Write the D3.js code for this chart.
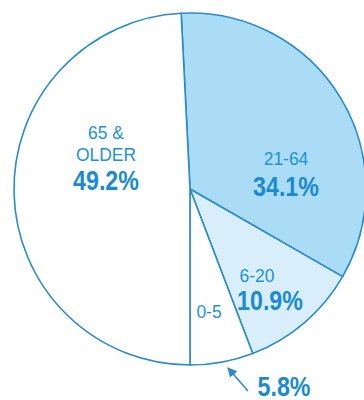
<!DOCTYPE html>
<html>
<head>
<meta charset="utf-8">
<script src="https://cdn.jsdelivr.net/npm/d3@7"></script>
<style>
  body { margin: 0; background: #fff; }
  svg { display: block; }
  .lbl { font-family: "Liberation Sans", Arial, sans-serif; fill: #2291d6; }
  .pct { font-family: "Liberation Sans", Arial, sans-serif; font-weight: bold; fill: #1a8ad3; }
</style>
</head>
<body>
<svg width="364" height="400"></svg>
<script>
// age groups, clockwise from 12 o'clock
const groups = ['21-64', '6-20', '0-5', '65 & OLDER'];
const shares = [34.1, 10.9, 5.8, 49.2];
const fills = ['#abdcf6', '#d8effb', '#ffffff', '#ffffff'];

const width = 364, height = 400;
const cx = 190, cy = 189, radius = 176;

const svg = d3.select('svg');
const g = svg.append('g').attr('transform', `translate(${cx},${cy})`);

// rotate so the 0-5 slice ends straight down
const total = d3.sum(shares);
const beforeOld = d3.sum(shares.slice(0, 3));
const start = Math.PI - beforeOld / total * 2 * Math.PI;

const pie = d3.pie().value(d => d).sort(null)
  .startAngle(start).endAngle(start + 2 * Math.PI);
const arc = d3.arc().innerRadius(0).outerRadius(radius);

g.selectAll('path.slice')
  .data(pie(shares))
  .enter().append('path')
  .attr('class', 'slice')
  .attr('d', arc)
  .attr('fill', (d, i) => fills[i])
  .attr('stroke', '#2a8bcb')
  .attr('stroke-width', 1.6)
  .attr('stroke-linejoin', 'round');

// labels: [x, y, text, class, size]
const labels = [
  [106, 139, '65 &', 'lbl', 18],
  [106, 161, 'OLDER', 'lbl', 18],
  [106, 190, shares[3].toFixed(1) + '%', 'pct', 27],
  [286, 165, groups[0], 'lbl', 18],
  [286, 196, shares[0].toFixed(1) + '%', 'pct', 27],
  [257, 282, groups[1], 'lbl', 18],
  [270, 310, shares[1].toFixed(1) + '%', 'pct', 27],
  [209, 318, groups[2], 'lbl', 18],
  [284, 396, shares[2].toFixed(1) + '%', 'pct', 27]
];

// the bold figures are set a little condensed
svg.selectAll('text.t')
  .data(labels)
  .enter().append('text')
  .attr('class', d => 't ' + d[3])
  .attr('transform', d => `translate(${d[0]},${d[1]}) scale(${d[3] === 'pct' ? 0.86 : 0.97},1)`)
  .attr('text-anchor', 'middle')
  .style('font-size', d => d[4] + 'px')
  .text(d => d[2]);

// pointer from the 5.8% figure up to the small slice
svg.append('defs').append('marker')
  .attr('id', 'head')
  .attr('viewBox', '0 0 10 10')
  .attr('refX', 9).attr('refY', 5)
  .attr('markerWidth', 6).attr('markerHeight', 6)
  .attr('orient', 'auto')
  .append('path')
  .attr('d', 'M0,0L10,5L0,10Z')
  .attr('fill', '#2a8bcb');

svg.append('line')
  .attr('x1', 248).attr('y1', 391)
  .attr('x2', 228).attr('y2', 368)
  .attr('stroke', '#2a8bcb')
  .attr('stroke-width', 1.6)
  .attr('marker-end', 'url(#head)');
</script>
</body>
</html>
